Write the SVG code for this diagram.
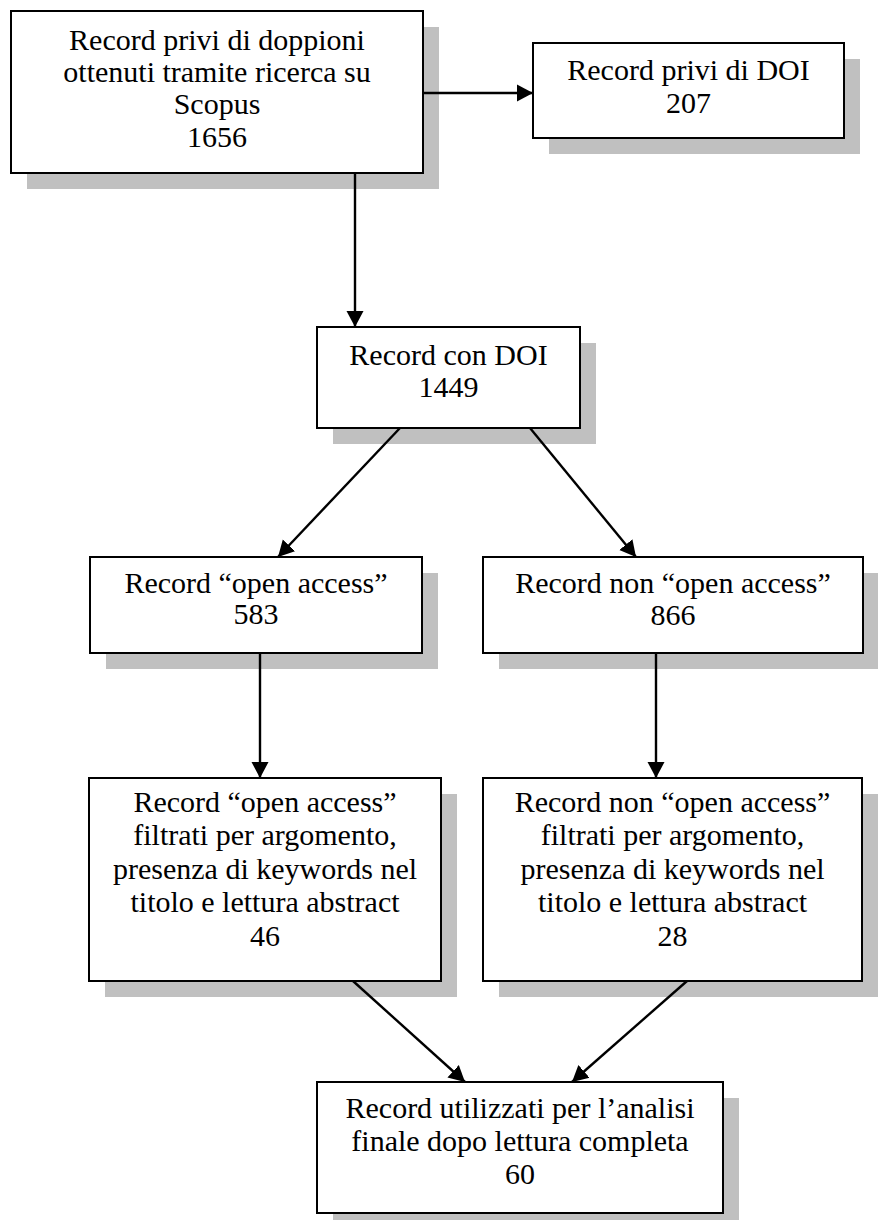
<svg xmlns="http://www.w3.org/2000/svg" width="878" height="1220" viewBox="0 0 878 1220">
<defs>
<style>
.sh{fill:#c0c0c0;stroke:none}
.bx{fill:#fff;stroke:#000;stroke-width:2}
.t{font-family:"Liberation Serif","Times New Roman",serif;font-size:30px;fill:#000;text-anchor:middle}
.c{stroke:#000;stroke-width:2.4;fill:none;marker-end:url(#ah)}
</style>
<marker id="ah" markerUnits="userSpaceOnUse" markerWidth="18" markerHeight="18" refX="16" refY="9" orient="auto" viewBox="0 0 18 18">
<path d="M0,0.5 L16,9 L0,17.5 z" fill="#000"/>
</marker>
</defs>
<rect width="878" height="1220" fill="#fff"/>
<g id="n1">
<rect class="sh" x="27" y="27" width="412" height="162"/>
<rect class="bx" x="11" y="11" width="412" height="162"/>
<text class="t" x="217" y="50">Record privi di doppioni</text>
<text class="t" x="217" y="82">ottenuti tramite ricerca su</text>
<text class="t" x="217" y="114">Scopus</text>
<text class="t" x="217" y="147">1656</text>
</g>
<g id="n2">
<rect class="sh" x="549" y="59" width="311" height="95"/>
<rect class="bx" x="533" y="43" width="311" height="95"/>
<text class="t" x="688.5" y="80">Record privi di DOI</text>
<text class="t" x="688.5" y="113">207</text>
</g>
<g id="n3">
<rect class="sh" x="333" y="343" width="263" height="101"/>
<rect class="bx" x="317" y="327" width="263" height="101"/>
<text class="t" x="448.5" y="365">Record con DOI</text>
<text class="t" x="448.5" y="397">1449</text>
</g>
<g id="n4">
<rect class="sh" x="106" y="573" width="332" height="96"/>
<rect class="bx" x="90" y="557" width="332" height="96"/>
<text class="t" x="256" y="593">Record “open access”</text>
<text class="t" x="256" y="624">583</text>
</g>
<g id="n5">
<rect class="sh" x="499" y="573" width="380" height="96"/>
<rect class="bx" x="483" y="557" width="380" height="96"/>
<text class="t" x="673" y="593">Record non “open access”</text>
<text class="t" x="673" y="625">866</text>
</g>
<g id="n6">
<rect class="sh" x="105" y="794" width="352" height="203"/>
<rect class="bx" x="89" y="778" width="352" height="203"/>
<text class="t" x="265" y="812">Record “open access”</text>
<text class="t" x="265" y="845">filtrati per argomento,</text>
<text class="t" x="265" y="879">presenza di keywords nel</text>
<text class="t" x="265" y="912">titolo e lettura abstract</text>
<text class="t" x="265" y="946">46</text>
</g>
<g id="n7">
<rect class="sh" x="499" y="794" width="379" height="203"/>
<rect class="bx" x="483" y="778" width="379" height="203"/>
<text class="t" x="672.5" y="812">Record non “open access”</text>
<text class="t" x="672.5" y="845">filtrati per argomento,</text>
<text class="t" x="672.5" y="879">presenza di keywords nel</text>
<text class="t" x="672.5" y="912">titolo e lettura abstract</text>
<text class="t" x="672.5" y="946">28</text>
</g>
<g id="n8">
<rect class="sh" x="333" y="1098" width="406" height="131"/>
<rect class="bx" x="317" y="1082" width="406" height="131"/>
<text class="t" x="520" y="1118">Record utilizzati per l’analisi</text>
<text class="t" x="520" y="1151">finale dopo lettura completa</text>
<text class="t" x="520" y="1184">60</text>
</g>
<g id="connectors">
<line class="c" x1="423" y1="93" x2="533" y2="93"/>
<line class="c" x1="355" y1="173" x2="355" y2="327"/>
<line class="c" x1="400" y1="428" x2="278" y2="557"/>
<line class="c" x1="530" y1="428" x2="636" y2="557"/>
<line class="c" x1="260" y1="653" x2="260" y2="778"/>
<line class="c" x1="656" y1="653" x2="656" y2="778"/>
<line class="c" x1="353" y1="981" x2="465" y2="1082"/>
<line class="c" x1="687" y1="981" x2="572" y2="1082"/>
</g>
</svg>
